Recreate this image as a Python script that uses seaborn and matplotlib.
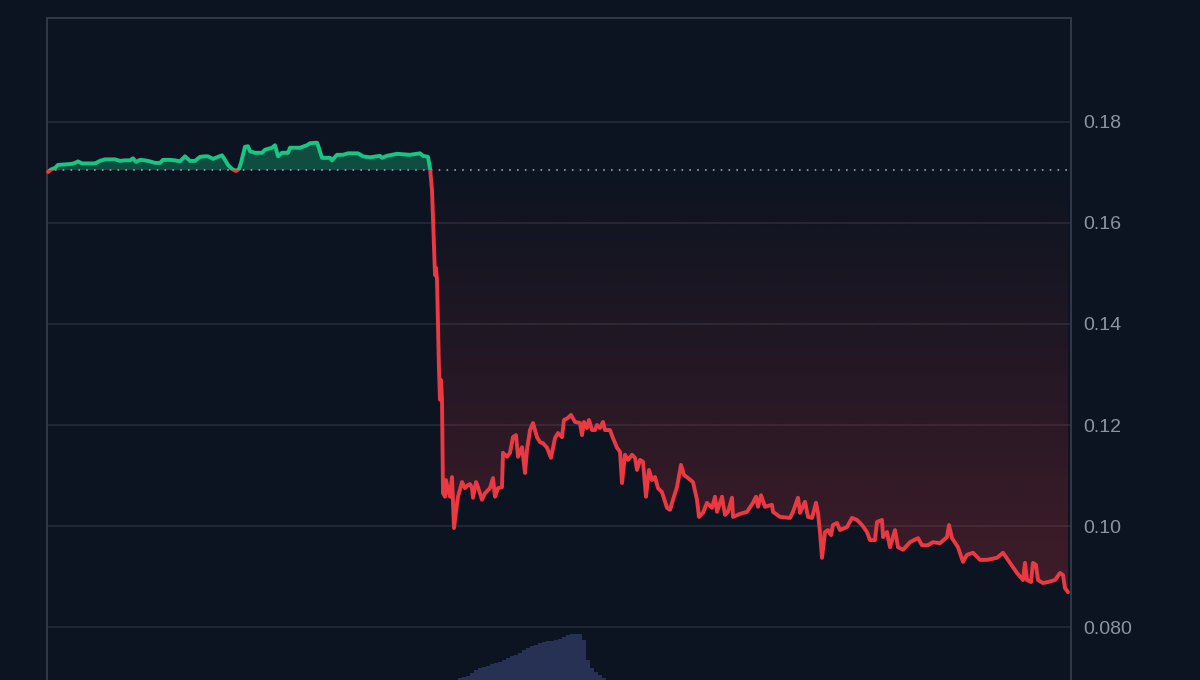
import numpy as np
import matplotlib
matplotlib.use("Agg")
import matplotlib.pyplot as plt
import seaborn as sns
from matplotlib.patches import Rectangle, PathPatch
from matplotlib.path import Path

# ---------------- data ----------------
time_idx = [
    0, 3, 7, 10, 17, 24, 27, 30, 34, 42,
    47, 52, 57, 67, 72, 77, 82, 85, 88, 92,
    97, 102, 107, 112, 115, 122, 127, 132, 137, 142,
    147, 152, 157, 160, 165, 170, 174, 177, 180, 184,
    188, 191, 193, 197, 200, 202, 207, 214, 217, 224,
    227, 230, 234, 240, 242, 252, 259, 262, 269, 270,
    274, 282, 284, 289, 295, 300, 310, 315, 322, 332,
    334, 339, 349, 362, 372, 375, 380, 382, 384, 387,
    388, 389, 391, 392, 393, 394, 395, 397, 398, 400,
    402, 404, 406, 408, 410, 414, 417, 420, 422, 424,
    425, 428, 430, 434, 437, 440, 442, 445, 447, 450,
    454, 455, 459, 462, 465, 468, 470, 474, 477, 479,
    482, 485, 489, 492, 495, 499, 503, 507, 510, 514,
    516, 520, 523, 527, 532, 534, 536, 539, 541, 544,
    547, 549, 552, 555, 557, 562, 565, 569, 572, 574,
    577, 580, 584, 587, 589, 592, 595, 598, 601, 604,
    607, 610, 614, 619, 622, 625, 629, 633, 636, 640,
    645, 649, 651, 655, 659, 664, 667, 669, 674, 677,
    680, 684, 685, 692, 699, 705, 708, 710, 713, 717,
    724, 725, 732, 742, 745, 750, 752, 757, 760, 764,
    768, 770, 772, 774, 777, 780, 783, 785, 789, 792,
    799, 804, 809, 814, 819, 822, 827, 829, 834, 835,
    839, 842, 847, 850, 855, 862, 870, 874, 880, 885,
    892, 899, 901, 904, 910, 915, 919, 925, 932, 939,
    949, 955, 962, 969, 975, 977, 979, 983, 985, 988,
    990, 995, 1000, 1007, 1012, 1015, 1017, 1020,
]
price = [
    .1701, .1706, .1709, .1715, .1716, .1717, .1719, .1722, .1718, .1718,
    .1718, .1723, .1726, .1726, .1723, .1724, .1724, .1728, .1721, .1725,
    .1724, .1722, .1719, .1719, .1725, .1725, .1724, .1722, .1732, .1723,
    .1723, .1731, .1732, .1732, .1727, .1731, .1734, .1725, .1715, .1707,
    .1703, .1707, .1719, .1751, .1752, .1742, .1739, .1739, .1745, .1749,
    .1754, .1732, .1739, .1739, .1749, .1749, .1754, .1758, .1759, .1754,
    .1729, .1729, .1724, .1735, .1735, .1738, .1738, .1732, .1730, .1733,
    .1729, .1733, .1737, .1735, .1738, .1733, .1731, .1709, .1665, .1497,
    .1511, .1487, .1309, .1250, .1289, .1250, .1065, .1058, .1091, .1071,
    .1058, .1097, .0996, .1028, .1058, .1087, .1075, .1081, .1083, .1075,
    .1056, .1087, .1077, .1052, .1065, .1071, .1075, .1095, .1058, .1075,
    .1077, .1145, .1137, .1145, .1176, .1180, .1137, .1156, .1105, .1151,
    .1190, .1204, .1176, .1166, .1164, .1155, .1135, .1174, .1184, .1176,
    .1210, .1214, .1220, .1206, .1204, .1180, .1206, .1194, .1210, .1190,
    .1190, .1200, .1194, .1206, .1190, .1190, .1174, .1155, .1147, .1085,
    .1141, .1131, .1141, .1135, .1111, .1131, .1127, .1058, .1111, .1091,
    .1097, .1075, .1067, .1036, .1032, .1052, .1077, .1121, .1101, .1095,
    .1087, .1052, .1018, .1026, .1046, .1036, .1058, .1028, .1058, .1022,
    .1028, .1056, .1018, .1024, .1028, .1046, .1058, .1038, .1061, .1038,
    .1042, .1028, .1018, .1016, .1028, .1056, .1026, .1048, .1018, .1016,
    .1046, .1026, .0988, .0937, .0988, .0992, .0982, .1002, .1006, .0992,
    .0998, .1016, .1012, .1002, .0988, .0972, .0972, .1008, .1012, .0978,
    .0988, .0958, .0992, .0958, .0953, .0968, .0976, .0962, .0962, .0968,
    .0966, .0978, .1002, .0976, .0958, .0929, .0943, .0947, .0933, .0933,
    .0937, .0947, .0927, .0907, .0893, .0927, .0893, .0889, .0927, .0923,
    .0893, .0887, .0889, .0893, .0907, .0903, .0877, .0869,
]
open_price = 0.1705

vol_time = [
    412, 416, 420, 424, 428, 432, 436, 440, 444, 448,
    452, 456, 460, 464, 468, 472, 476, 480, 484, 488,
    492, 496, 500, 504, 508, 512, 516, 520, 524, 528,
    532, 536, 540, 544, 548, 552, 556,
]
volume = [
    2, 3, 4, 7, 10, 12, 13, 14, 16, 17,
    18, 20, 22, 24, 25, 27, 30, 32, 34, 35,
    37, 38, 39, 39, 40, 41, 43, 45, 46, 46,
    46, 40, 20, 12, 8, 5, 2,
]

y_ticks = [0.08, 0.10, 0.12, 0.14, 0.16, 0.18]
y_tick_labels = ["0.080", "0.10", "0.12", "0.14", "0.16", "0.18"]

# ---------------- style ----------------
BG = "#0d1421"
GREEN = "#16c784"
RED = "#ea3943"
GRID = "#262c39"
BORDER = "#333947"
TICK = "#8c93a1"
VOLC = "#263153"

sns.set_theme(style="dark")
plt.rcParams["font.family"] = ["Liberation Sans", "DejaVu Sans"]

W, H = 1200, 680
fig = plt.figure(figsize=(W / 100, H / 100), dpi=100, facecolor=BG)
ax = fig.add_axes([47 / W, 0, 1024 / W, 662 / H])
ax.set_facecolor(BG)

t = np.array(time_idx, dtype=float)
p = np.array(price, dtype=float)

XMIN, XMAX = -1, 1023
YMIN, YMAX = 0.069505, 0.200594

# grid
ax.set_yticks(y_ticks)
ax.set_yticklabels(y_tick_labels)
ax.yaxis.grid(True, color=GRID, lw=1.1, zorder=0)
ax.xaxis.grid(False)
ax.set_axisbelow(True)

# green fill above open price
ax.fill_between(t, p, open_price, where=p >= open_price, interpolate=True,
                color=GREEN, alpha=0.32, lw=0, zorder=1)

# red gradient fill below open price
red_poly = ax.fill_between(t, p, open_price, where=p <= open_price, interpolate=True,
                           facecolor="none", edgecolor="none", lw=0)
clip_path = Path.make_compound_path(*red_poly.get_paths())
clip_patch = PathPatch(clip_path, transform=ax.transData, facecolor="none",
                       edgecolor="none")
ax.add_patch(clip_patch)
n = 256
grad = np.zeros((n, 1, 4))
rgb = matplotlib.colors.to_rgb(RED)
grad[:, 0, 0], grad[:, 0, 1], grad[:, 0, 2] = rgb
grad[:, 0, 3] = np.linspace(0.28, 0.0, n)
im = ax.imshow(grad, extent=[XMIN, XMAX, YMIN, open_price], origin="lower",
               aspect="auto", zorder=1, interpolation="bilinear")
im.set_clip_path(clip_patch)

# dotted open-price line
ax.axhline(open_price, color="#9aa1ad", lw=1.2, ls=(0, (1, 3.7)), zorder=2)

# price line: green above, red below
sns.lineplot(x=t, y=p, ax=ax, color=GREEN, lw=2.8, zorder=3)
green_line = ax.lines[-1]
sns.lineplot(x=t, y=p, ax=ax, color=RED, lw=2.8, zorder=3)
red_line = ax.lines[-1]
above = Rectangle((XMIN - 10, open_price), XMAX - XMIN + 20, 1, transform=ax.transData)
below = Rectangle((XMIN - 10, -1), XMAX - XMIN + 20, open_price + 1, transform=ax.transData)
green_line.set_clip_path(above)
red_line.set_clip_path(below)

ax.set_xlim(XMIN, XMAX)
ax.set_ylim(YMIN, YMAX)
ax.set_xlabel("")
ax.set_ylabel("")
ax.set_xticks([])

ax.yaxis.tick_right()
ax.tick_params(axis="y", length=0, pad=8.5, labelcolor=TICK, labelsize=14)

for side in ["left", "right", "top"]:
    ax.spines[side].set_visible(True)
    ax.spines[side].set_color(BORDER)
    ax.spines[side].set_linewidth(1.4)
ax.spines["bottom"].set_visible(False)

# volume bars
vax = fig.add_axes([47 / W, 0, 1024 / W, 80 / H])
vax.patch.set_alpha(0)
vax.bar(vol_time, volume, width=3.3, color=VOLC, lw=0)
vax.set_xlim(XMIN, XMAX)
vax.set_ylim(0, 80)
vax.axis("off")

fig.savefig("out.png", dpi=100, facecolor=BG)
